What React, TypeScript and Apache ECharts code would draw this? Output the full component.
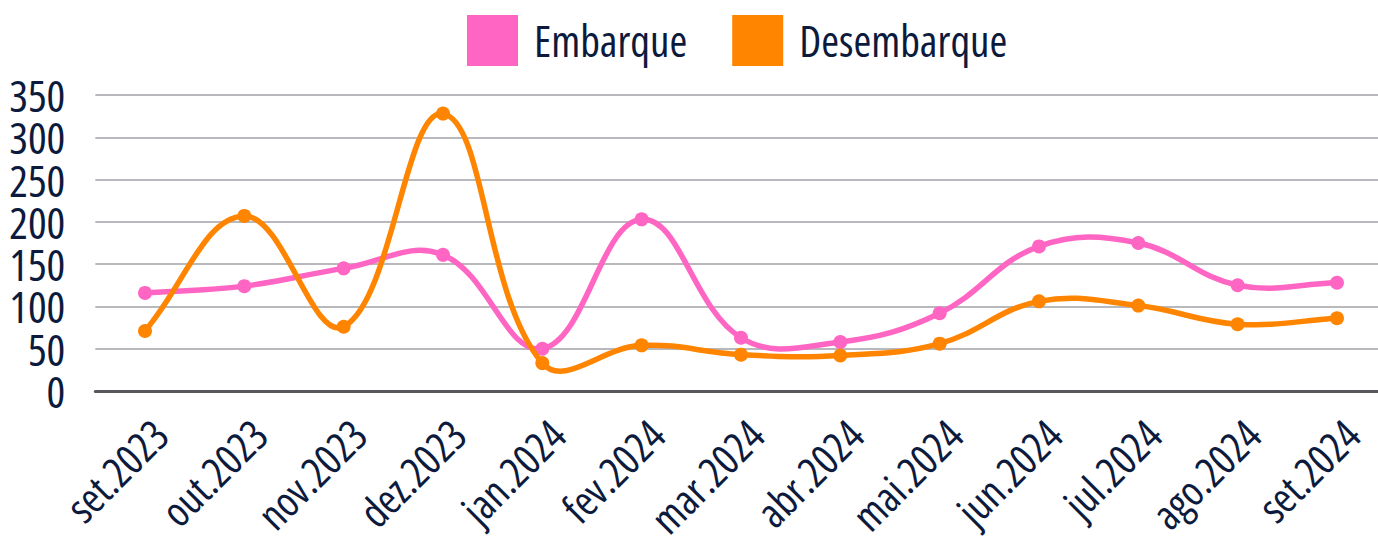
import React, { useEffect, useRef } from "react";
import * as echarts from "echarts";

const categories = [
  "set.2023", "out.2023", "nov.2023", "dez.2023", "jan.2024", "fev.2024", "mar.2024",
  "abr.2024", "mai.2024", "jun.2024", "jul.2024", "ago.2024", "set.2024",
];
const embarque = [116, 124, 145, 161, 50, 203, 63, 58, 92, 171, 175, 125, 128];
const desembarque = [71, 207, 76, 328, 33, 54, 43, 42, 56, 106, 101, 79, 86];
const seriesNames = ["Embarque", "Desembarque"];
const colors = ["#FF66C4", "#FF8500"];

const FONT = "'Open Sans', 'Roboto Condensed', sans-serif";
const Y_FONT = "'Open Sans', 'Roboto Condensed', 'Noto Sans', sans-serif";
const STRETCH = "normal condensed";
const TEXT = "#0c1b3d";
const LINE_W = 5.5;
const TENSION = 0.4;

// Smooth curve (distance-weighted cardinal spline) through points placed by the axis scales.
function curveSeries(name: string, values: number[], color: string, z: number) {
  return {
    name: name + "-curve",
    type: "custom",
    coordinateSystem: "cartesian2d",
    silent: true,
    z,
    data: values.map((v, i) => [i, v]),
    encode: { x: 0, y: 1 },
    renderItem: (params: any, api: any) => {
      if (params.dataIndex !== 0) return null;
      const p = values.map((v, i) => api.coord([i, v]));
      const n = p.length;
      const prevCtrl: number[][] = [];
      const nextCtrl: number[][] = [];
      for (let i = 0; i < n; i++) {
        const a = p[i - 1] || p[i];
        const b = p[i];
        const c = p[i + 1] || p[i];
        const d01 = Math.hypot(b[0] - a[0], b[1] - a[1]);
        const d12 = Math.hypot(c[0] - b[0], c[1] - b[1]);
        const s = d01 + d12 || 1;
        const fa = (TENSION * d01) / s;
        const fb = (TENSION * d12) / s;
        prevCtrl.push([b[0] - fa * (c[0] - a[0]), b[1] - fa * (c[1] - a[1])]);
        nextCtrl.push([b[0] + fb * (c[0] - a[0]), b[1] + fb * (c[1] - a[1])]);
      }
      let d = `M${p[0][0]},${p[0][1]}`;
      for (let i = 0; i < n - 1; i++) {
        d += ` C${nextCtrl[i][0]},${nextCtrl[i][1]} ${prevCtrl[i + 1][0]},${prevCtrl[i + 1][1]} ${p[i + 1][0]},${p[i + 1][1]}`;
      }
      return {
        type: "path",
        shape: { pathData: d },
        style: { stroke: color, lineWidth: LINE_W, fill: "none", lineJoin: "round", lineCap: "round" },
      };
    },
  };
}

function pointSeries(name: string, values: number[], color: string, z: number) {
  return {
    name,
    type: "line",
    data: values,
    symbol: "circle",
    symbolSize: 14,
    itemStyle: { color },
    lineStyle: { color, width: 0, opacity: 0 },
    z,
  };
}

export default function App() {
  const ref = useRef<HTMLDivElement>(null);
  useEffect(() => {
    if (!ref.current) return;
    const chart = echarts.init(ref.current, null, { renderer: "svg" });
    chart.setOption({
      animation: false,
      backgroundColor: "#ffffff",
      legend: {
        left: 467,
        top: 15,
        padding: 0,
        itemWidth: 51,
        itemHeight: 51,
        itemGap: 45,
        icon: "rect",
        textStyle: { fontFamily: FONT, fontWeight: STRETCH, fontSize: 43, color: TEXT, padding: [0, 0, 0, 11] },
        data: seriesNames.map((n, i) => ({ name: n, itemStyle: { color: colors[i] } })),
      },
      grid: {
        left: 95.33,
        top: 95,
        width: 1291.3,
        height: 296,
        containLabel: false,
        outerBoundsMode: "none",
      },
      xAxis: {
        type: "category",
        data: categories,
        boundaryGap: true,
        axisLine: { show: true, lineStyle: { color: "#58585c", width: 3 } },
        axisTick: { show: false },
        axisLabel: {
          rotate: 45,
          margin: 21,
          verticalAlign: "top",
          fontFamily: FONT,
          fontWeight: STRETCH,
          fontSize: 42,
          color: TEXT,
          interval: 0,
        },
        splitLine: { show: false },
      },
      yAxis: {
        type: "value",
        min: 0,
        max: 350,
        interval: 50,
        axisLine: { show: false },
        axisTick: { show: false },
        axisLabel: {
          margin: 30,
          fontFamily: Y_FONT,
          fontWeight: STRETCH,
          fontSize: 28,
          color: TEXT,
          showMinLabel: true,
          showMaxLabel: true,
          hideOverlap: false,
        },
        splitLine: { show: true, lineStyle: { color: "#b8b8bd", width: 2 } },
      },
      series: [
        curveSeries(seriesNames[0], embarque, colors[0], 2),
        pointSeries(seriesNames[0], embarque, colors[0], 3),
        curveSeries(seriesNames[1], desembarque, colors[1], 4),
        pointSeries(seriesNames[1], desembarque, colors[1], 5),
      ],
    });
    return () => chart.dispose();
  }, []);
  return (
    <>
      <style>{
        ".cond-chart text, .cond-chart tspan { font-stretch: condensed !important; font-weight: 400 !important; }" +
        ' .cond-chart text[style*="Noto Sans"] { font-size: 44px !important; }'
      }</style>
      <div
        ref={ref}
        className="cond-chart"
        style={{ position: "fixed", left: 0, top: 0, width: 1378, height: 537 }}
      />
    </>
  );
}
